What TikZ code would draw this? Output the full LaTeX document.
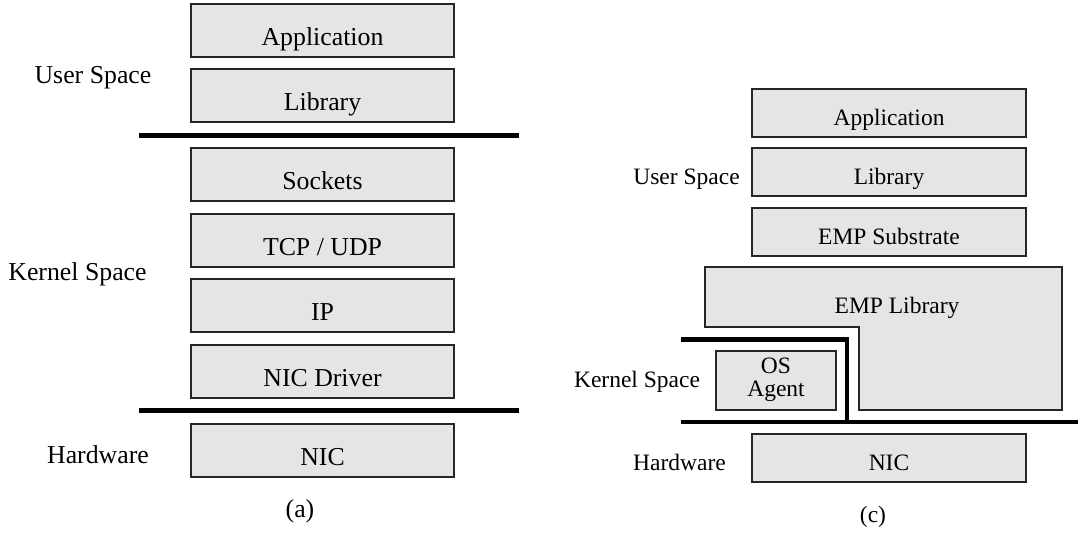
\documentclass[tikz,border=0pt]{standalone}
\usepackage{fontspec}
\setmainfont{Liberation Serif}
\begin{document}
\begin{tikzpicture}[x=1pt,y=-1pt,
  lfont/.style={font=\fontsize{25.8}{27}\selectfont},
  rfont/.style={font=\fontsize{23.5}{23}\selectfont},
  layer/.style={draw=black!85,line width=1.3pt,fill=black!10,rectangle,inner sep=0pt},
  lbox/.style={layer,lfont,minimum width=263pt,minimum height=53pt,text height=29pt,text depth=0pt},
  rbox/.style={layer,rfont,minimum width=274pt,minimum height=48pt,text height=24pt,text depth=0pt},
  llabel/.style={lfont,anchor=base,inner sep=0pt},
  rlabel/.style={rfont,anchor=base,inner sep=0pt},
  lsep/.style={line width=5pt},
  rsep/.style={line width=4.6pt,line join=miter}]
\useasboundingbox (0,0) rectangle (1078,539);

% ---- (a) conventional protocol stack ----
\node[lbox] (appA)  at (322.5,30.5)  {Application};
\node[lbox] (libA)  at (322.5,95.5)  {Library};
\node[lbox] (sock)  at (322.5,174.5) {Sockets};
\node[lbox] (tcp)   at (322.5,240.5) {TCP / UDP};
\node[lbox] (ip)    at (322.5,305.5) {IP};
\node[lbox] (drv)   at (322.5,371.5) {NIC Driver};
\node[lbox] (nicA)  at (322.5,450.5) {NIC};

\coordinate (ua1) at (139,135.5);  \coordinate (ua2) at (519,135.5);
\coordinate (ha1) at (139,410.5);  \coordinate (ha2) at (519,410.5);
\draw[lsep] (ua1) -- (ua2);
\draw[lsep] (ha1) -- (ha2);

\node[llabel] (userA)   at (93,83)    {User Space};
\node[llabel] (kernA)   at (77.5,280) {Kernel Space};
\node[llabel] (hwA)     at (98,463)   {Hardware};
\node[llabel] (capA)    at (300,517)  {(a)};

% ---- (c) EMP stack ----
\node[rbox] (appC) at (889,113) {Application};
\node[rbox] (libC) at (889,172) {Library};
\node[rbox] (sub)  at (889,232) {EMP Substrate};
\node[rbox] (nicC) at (889,458) {NIC};

% EMP library spans user and kernel space
\draw[layer] (705,267) -- (1062,267) -- (1062,410) -- (859,410)
  -- (859,327) -- (705,327) -- cycle;
\node[rlabel] (emplib) at (897,313) {EMP Library};

\node[layer,rfont,minimum width=120pt,minimum height=59pt] (agent) at (776,380.5)
  {\begin{tabular}{@{}c@{}}OS\\Agent\end{tabular}\hspace{16pt}};

\coordinate (kc1) at (681,339.5); \coordinate (kc2) at (847,422);
\coordinate (hc1) at (681,422);   \coordinate (hc2) at (1078,422);
\draw[rsep] (kc1) -| (kc2);
\draw[rsep] (hc1) -- (hc2);

\node[rlabel] (userC) at (686.5,184) {User Space};
\node[rlabel] (kernC) at (637,387)   {Kernel Space};
\node[rlabel] (hwC)   at (679.5,470) {Hardware};
\node[rlabel] (capC)  at (873,522)   {(c)};
\end{tikzpicture}
\end{document}
